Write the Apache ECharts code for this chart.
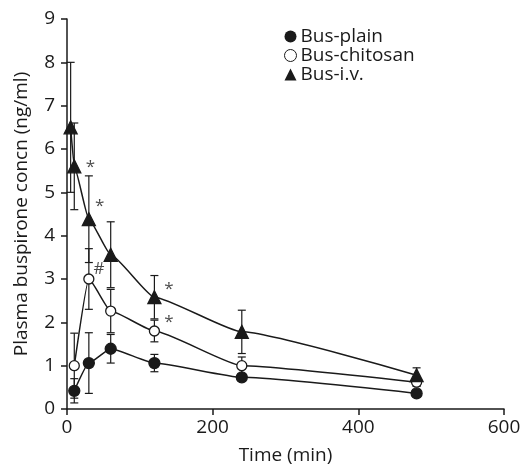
<!DOCTYPE html>
<html>
<head>
<meta charset="utf-8">
<script src="https://cdn.jsdelivr.net/npm/echarts@6/dist/echarts.min.js"></script>
<style>
	html, body { margin: 0; padding: 0; background: #fff; }
	#chart { width: 521px; height: 467px; }
</style>
</head>
<body>
<div id="chart"></div>
<script>
// sampling times (min)
const timesIv = [5, 10, 30, 60, 120, 240, 480];
const timesNasal = [10, 30, 60, 120, 240, 480];

// mean concentrations (ng/ml) and SD
const plainMean = [0.42, 1.06, 1.39, 1.06, 0.73, 0.36];
const plainErr = [0.28, 0.7, 0.33, 0.2, 0.08, 0.06];
const chitosanMean = [1.0, 3.0, 2.26, 1.8, 1.0, 0.62];
const chitosanErr = [0.75, 0.7, 0.5, 0.25, 0.2, 0.1];
const ivMean = [6.5, 5.6, 4.38, 3.56, 2.58, 1.78, 0.78];
const ivErr = [1.5, 1.0, 1.0, 0.76, 0.5, 0.5, 0.17];

// significance marks [time, conc, text]
const marks = [
	[32, 5.57, '*'],
	[45, 4.67, '*'],
	[44, 3.23, '#'],
	[140, 2.77, '*'],
	[140, 2.0, '*']
];

const xTicks = [0, 200, 400, 600];
const yTicks = [0, 1, 2, 3, 4, 5, 6, 7, 8, 9];

const FONT = '"Open Sans", "Noto Sans", sans-serif';
const INK = '#1a1a1a';

const pairs = (xs, ys) => xs.map((x, i) => [x, ys[i]]);
const errRows = (xs, ys, es) => xs.map((x, i) => [x, ys[i] - es[i], ys[i] + es[i]]);

const errorBars = (rows) => ({
	type: 'custom',
	silent: true,
	z: 1,
	data: rows,
	renderItem: (params, api) => {
		const lo = api.coord([api.value(0), api.value(1)]);
		const hi = api.coord([api.value(0), api.value(2)]);
		const w = 4;
		const style = { stroke: INK, lineWidth: 1.2 };
		return {
			type: 'group',
			children: [
				{ type: 'line', shape: { x1: lo[0], y1: lo[1], x2: hi[0], y2: hi[1] }, style },
				{ type: 'line', shape: { x1: lo[0] - w, y1: lo[1], x2: lo[0] + w, y2: lo[1] }, style },
				{ type: 'line', shape: { x1: hi[0] - w, y1: hi[1], x2: hi[0] + w, y2: hi[1] }, style }
			]
		};
	}
});

const lineSeries = (name, data, symbol, fill, size) => ({
	name,
	type: 'line',
	data,
	smooth: 0.15,
	smoothMonotone: 'x',
	symbol,
	symbolSize: size,
	z: 3,
	lineStyle: { color: INK, width: 1.5 },
	itemStyle: { color: fill, borderColor: INK, borderWidth: 1.3 }
});

const chart = echarts.init(document.getElementById('chart'));
chart.setOption({
	animation: false,
	textStyle: { fontFamily: FONT },
	grid: { left: 67, right: 17, top: 19, bottom: 58, outerBoundsMode: 'none', containLabel: false },
	legend: {
		orient: 'vertical',
		left: 279,
		top: 22,
		itemGap: 0,
		itemWidth: 12,
		itemHeight: 12,
		textStyle: { fontFamily: FONT, fontSize: 19, color: INK, padding: [0, 0, 0, -1] },
		data: [
			{ name: 'Bus-plain', icon: 'circle', itemStyle: { color: INK, borderWidth: 0 } },
			{ name: 'Bus-chitosan', icon: 'circle', itemStyle: { color: '#fff', borderColor: INK, borderWidth: 1 } },
			{ name: 'Bus-i.v.', icon: 'triangle', itemStyle: { color: INK, borderWidth: 0 } }
		]
	},
	xAxis: {
		type: 'value',
		min: 0,
		max: 600,
		interval: 200,
		name: 'Time (min)',
		nameLocation: 'middle',
		nameGap: 37,
		nameTextStyle: { fontFamily: FONT, fontSize: 19, color: INK },
		axisLine: { lineStyle: { color: INK, width: 1.5 } },
		axisTick: { show: true, length: 6, lineStyle: { color: INK, width: 1.5 } },
		axisLabel: { fontFamily: FONT, fontSize: 19, color: INK, margin: 9,
			formatter: (v) => xTicks.includes(v) ? String(v) : '' },
		splitLine: { show: false }
	},
	yAxis: {
		type: 'value',
		min: 0,
		max: 9,
		interval: 1,
		name: 'Plasma buspirone concn (ng/ml)',
		nameLocation: 'middle',
		nameGap: 36,
		nameTextStyle: { fontFamily: FONT, fontSize: 19, color: INK },
		axisLine: { show: true, lineStyle: { color: INK, width: 1.5 } },
		axisTick: { show: true, length: 6, lineStyle: { color: INK, width: 1.5 } },
		axisLabel: { fontFamily: FONT, fontSize: 19, color: INK, margin: 12,
			formatter: (v) => yTicks.includes(v) ? String(v) : '' },
		splitLine: { show: false }
	},
	series: [
		errorBars(errRows(timesNasal, plainMean, plainErr)),
		errorBars(errRows(timesNasal, chitosanMean, chitosanErr)),
		errorBars(errRows(timesIv, ivMean, ivErr)),
		lineSeries('Bus-plain', pairs(timesNasal, plainMean), 'circle', INK, 11),
		lineSeries('Bus-chitosan', pairs(timesNasal, chitosanMean), 'circle', '#fff', 10),
		lineSeries('Bus-i.v.', pairs(timesIv, ivMean), 'triangle', INK, 13),
		{
			type: 'scatter',
			silent: true,
			symbolSize: 0,
			z: 4,
			data: marks.map((m) => ({ value: [m[0], m[1]], name: m[2] })),
			label: {
				show: true,
				position: 'inside',
				formatter: (p) => p.name,
				fontFamily: FONT,
				fontSize: 17,
				color: INK
			}
		}
	]
});
</script>
</body>
</html>
